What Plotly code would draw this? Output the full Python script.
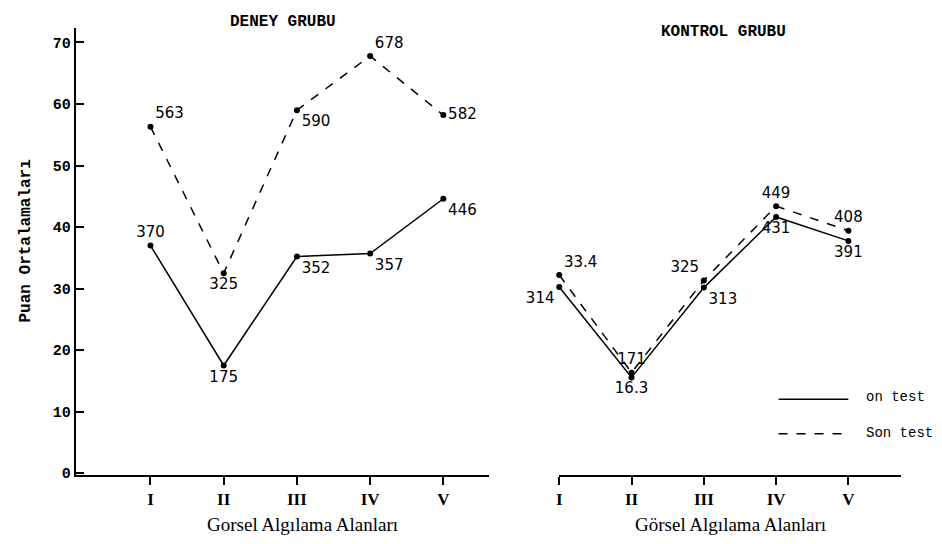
import plotly.graph_objects as go

W, H = 942, 544

categories = [1, 2, 3, 4, 5]
roman = ["I", "II", "III", "IV", "V"]

# Deney grubu
deney_on = [37.0, 17.5, 35.2, 35.7, 44.6]
deney_son = [56.3, 32.5, 59.0, 67.8, 58.2]
deney_on_lbl = ["370", "175", "352", "357", "446"]
deney_son_lbl = ["563", "325", "590", "678", "582"]

# Kontrol grubu
kontrol_on = [31.4, 16.3, 31.3, 43.1, 39.1]
kontrol_son = [33.4, 17.1, 32.5, 44.9, 40.8]
kontrol_on_lbl = ["314", "16.3", "313", "431", "391"]
kontrol_son_lbl = ["33.4", "171", "325", "449", "408"]

y_ticks = [0, 10, 20, 30, 40, 50, 60, 70]

mono = "Liberation Mono"
serif = "Liberation Serif"
hand = "DejaVu Sans"

def px(x):
    return x / W

def py(y):
    return 1 - y / H

fig = go.Figure()

lbl_font = dict(family=hand, size=15, color="black")

# Deney
fig.add_trace(go.Scatter(x=categories, y=deney_on, mode="lines+markers+text",
                         text=deney_on_lbl,
                         textposition=["top center", "bottom center", "bottom right", "bottom right", "bottom right"],
                         textfont=lbl_font, cliponaxis=False,
                         line=dict(color="black", width=1.5),
                         marker=dict(color="black", size=6),
                         xaxis="x", yaxis="y", showlegend=False))
fig.add_trace(go.Scatter(x=categories, y=deney_son, mode="lines+markers+text",
                         text=deney_son_lbl,
                         textposition=["top right", "bottom center", "bottom right", "top right", "middle right"],
                         textfont=lbl_font, cliponaxis=False,
                         line=dict(color="black", width=1.5, dash="dash"),
                         marker=dict(color="black", size=6),
                         xaxis="x", yaxis="y", showlegend=False))
# Kontrol
fig.add_trace(go.Scatter(x=categories, y=kontrol_on, mode="lines+markers+text",
                         text=kontrol_on_lbl,
                         textposition=["bottom left", "bottom center", "bottom right", "bottom center", "bottom center"],
                         textfont=lbl_font, cliponaxis=False,
                         line=dict(color="black", width=1.5),
                         marker=dict(color="black", size=6),
                         xaxis="x2", yaxis="y2", showlegend=False))
fig.add_trace(go.Scatter(x=categories, y=kontrol_son, mode="lines+markers+text",
                         text=kontrol_son_lbl,
                         textposition=["top right", "top center", "top left", "top center", "top center"],
                         textfont=lbl_font, cliponaxis=False,
                         line=dict(color="black", width=1.5, dash="dash"),
                         marker=dict(color="black", size=6),
                         xaxis="x2", yaxis="y2", showlegend=False))

axis_common = dict(showgrid=False, zeroline=False, showline=True, linecolor="black", linewidth=2)
roman_font = dict(family=serif, size=17, color="black", weight="bold")

fig.update_layout(
    width=W, height=H,
    margin=dict(l=0, r=0, t=0, b=0),
    paper_bgcolor="white", plot_bgcolor="white",
    xaxis=dict(domain=[px(65), px(480)], range=[-0.02, 5.63],
               tickvals=categories, ticktext=roman, ticks="outside", ticklen=8,
               tickcolor="black", tickwidth=2, tickfont=roman_font,
               anchor="y", **axis_common),
    yaxis=dict(domain=[py(474), py(20)], range=[-0.3, 72.4],
               tickvals=y_ticks, ticks="inside", ticklen=8, tickcolor="black", tickwidth=2,
               ticksuffix="\u00a0",
               tickfont=dict(family=mono, size=15, color="black", weight="bold"),
               anchor="x", **axis_common),
    xaxis2=dict(domain=[px(550), px(893)], range=[1.0, 5.73],
                tickvals=categories, ticktext=roman, ticks="outside", ticklen=8,
                tickcolor="black", tickwidth=2, tickfont=roman_font,
                anchor="y2", **axis_common),
    yaxis2=dict(domain=[py(474), py(20)], range=[0, 74.7],
                showgrid=False, zeroline=False, showline=False, showticklabels=False,
                anchor="x2"),
)

def note(text, x, y, font, xanchor="center", angle=0):
    return dict(text=text, x=px(x), y=py(y), xref="paper", yref="paper",
                xanchor=xanchor, yanchor="middle", showarrow=False,
                textangle=angle, font=font)

ann = [
    note("<b>DENEY GRUBU</b>", 273, 14, dict(family=mono, size=16, color="black")),
    note("<b>KONTROL GRUBU</b>", 715, 24, dict(family=mono, size=16, color="black")),
    note("<b>Puan Ortalamaları</b>", 15, 236, dict(family=mono, size=16, color="black"), angle=-90),
    note("Gorsel Algılama Alanları", 292, 524, dict(family=serif, size=19, color="black")),
    note("Görsel Algılama Alanları", 722, 524, dict(family=serif, size=19, color="black")),
    note("on test", 856, 395, dict(family=mono, size=14, color="black"), xanchor="left"),
    note("Son test", 856, 431, dict(family=mono, size=14, color="black"), xanchor="left"),
]
fig.update_layout(annotations=ann)

fig.add_shape(type="line", xref="paper", yref="paper", x0=px(770), x1=px(840), y0=py(397), y1=py(397),
              line=dict(color="black", width=1.5))
fig.add_shape(type="line", xref="paper", yref="paper", x0=px(770), x1=px(840), y0=py(432), y1=py(432),
              line=dict(color="black", width=1.5, dash="dash"))

fig.write_html("out.html")
